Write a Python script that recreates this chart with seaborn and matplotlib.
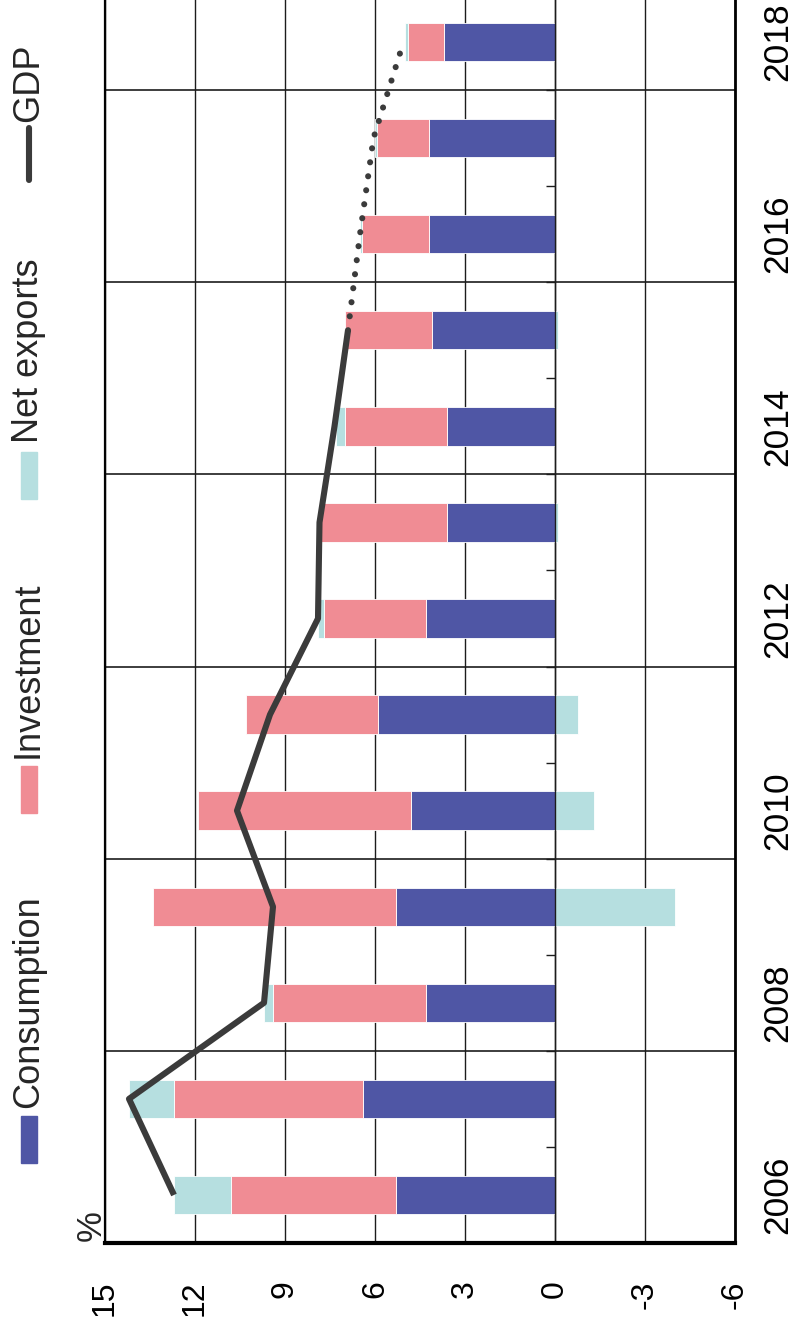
import numpy as np
import matplotlib
matplotlib.use("Agg")
import matplotlib.pyplot as plt
from matplotlib.patches import Rectangle
from matplotlib.lines import Line2D
import seaborn as sns

# data (contributions to growth, %)
years = np.arange(2006, 2019)
consumption = np.array([5.3, 6.4, 4.3, 5.3, 4.8, 5.9, 4.3, 3.6, 3.6, 4.1, 4.2, 4.2, 3.7])
investment = np.array([5.5, 6.3, 5.1, 8.1, 7.1, 4.4, 3.4, 4.2, 3.4, 2.9, 2.25, 1.75, 1.2])
net_exports = np.array([1.9, 1.5, 0.3, -4.0, -1.3, -0.75, 0.2, -0.1, 0.3, -0.1, 0.06, 0.04, 0.1])
gdp = np.array([12.7, 14.2, 9.7, 9.4, 10.6, 9.5, 7.9, 7.85, 7.35, 6.9, 6.5, 6.05, 5.05])
last_actual = 2015  # dotted line after this year

value_ticks = [15, 12, 9, 6, 3, 0, -3, -6]
year_ticks = years[::2]

c_cons = "#4f56a5"
c_inv = "#f08c94"
c_nx = "#b6dfe0"
c_gdp = "#3b3b3b"
c_line = "#1c1c1c"

sns.set_theme(style="white")
plt.rcParams["font.family"] = ["Liberation Sans", "DejaVu Sans"]
plt.rcParams["axes.unicode_minus"] = False

W, H = 792, 1331
fig = plt.figure(figsize=(W / 100, H / 100), dpi=100)
ax = fig.add_axes([105 / W, 88 / H, 630 / W, 1249 / H])

# stacked horizontal bars
bar_kw = dict(height=0.4, edgecolor="white", linewidth=0.6, zorder=2)
ax.barh(years, consumption, color=c_cons, **bar_kw)
ax.barh(years, investment, left=consumption, color=c_inv, **bar_kw)
nx_left = np.where(net_exports >= 0, consumption + investment, 0)
ax.barh(years, net_exports, left=nx_left, color=c_nx, **bar_kw)

# GDP line, solid for actuals then dotted
act = years <= last_actual
fc = years >= last_actual
sns.lineplot(x=gdp[act], y=years[act], orient="y", sort=False, estimator=None,
             color=c_gdp, linewidth=4.4, solid_capstyle="butt", zorder=4, ax=ax)
sns.lineplot(x=gdp[fc], y=years[fc], orient="y", sort=False, estimator=None,
             color=c_gdp, linewidth=4.4, linestyle=(0, (0.01, 2.3)),
             dash_capstyle="round", zorder=4, ax=ax)
ax.set_xlabel("")
ax.set_ylabel("")

ax.set_xlim(15, -6)
ax.set_ylim(2005.5, 2018.5)

# value axis
ax.set_xticks(value_ticks)
ax.grid(axis="x", color=c_line, linewidth=1.0, zorder=0)
ax.set_axisbelow(True)
ax.tick_params(axis="x", length=0, pad=27, labelsize=23, labelcolor="black", labelrotation=90)
for lab in ax.get_xticklabels():
    lab.set_rotation_mode("anchor")
    lab.set_ha("right")
    lab.set_va("center")

# year axis: labels on the right, small ticks on the zero line
ax.spines["left"].set_position(("data", 0))
ax.set_yticks(year_ticks)
ax.set_yticks(np.arange(2005.5, 2019, 1), minor=True)
ax.tick_params(axis="y", which="major", left=False, right=False, labelleft=False,
               labelright=True, labelsize=25.5, pad=13, labelrotation=90, labelcolor="black")
ax.tick_params(axis="y", which="minor", left=True, right=False, length=6.5,
               width=1.0, direction="out", color=c_line)
for lab in ax.get_yticklabels():
    lab.set_rotation_mode("anchor")
    lab.set_ha("center")
    lab.set_va("top")

for yv in np.arange(2007.5, 2018.5, 2):
    ax.axhline(yv, color=c_line, linewidth=1.2, zorder=1)
ax.axvline(15, color="black", linewidth=1.6, clip_on=False, zorder=3)

ax.spines["left"].set_color(c_line)
ax.spines["left"].set_linewidth(1.0)
ax.spines["bottom"].set_color("black")
ax.spines["bottom"].set_linewidth(3.0)
ax.spines["right"].set_color("black")
ax.spines["right"].set_linewidth(2.0)
ax.spines["top"].set_color("black")


def fx(x):
    return x / W


def fy(y):
    return 1 - y / H


# legend drawn along the left edge, rotated like the chart
fig.text(fx(101), fy(1241), "%", rotation=90, rotation_mode="anchor",
         ha="left", va="baseline", fontsize=25)

legend_items = [("Consumption", c_cons, 1163, 1108),
                ("Investment", c_inv, 813, 758),
                ("Net exports", c_nx, 499, 443)]
for name, col, y_patch, y_text in legend_items:
    fig.add_artist(Rectangle((fx(21), fy(y_patch)), 16 / W, 47 / H,
                             transform=fig.transFigure, color=col))
    fig.text(fx(38), fy(y_text), name, rotation=90, rotation_mode="anchor",
             ha="left", va="baseline", fontsize=26)

fig.add_artist(Line2D([fx(29), fx(29)], [fy(180), fy(128)], transform=fig.transFigure,
                      color=c_gdp, linewidth=4.4, solid_capstyle="round"))
fig.text(fx(38), fy(122), "GDP", rotation=90, rotation_mode="anchor",
         ha="left", va="baseline", fontsize=26)

fig.savefig("out.png", dpi=100)
